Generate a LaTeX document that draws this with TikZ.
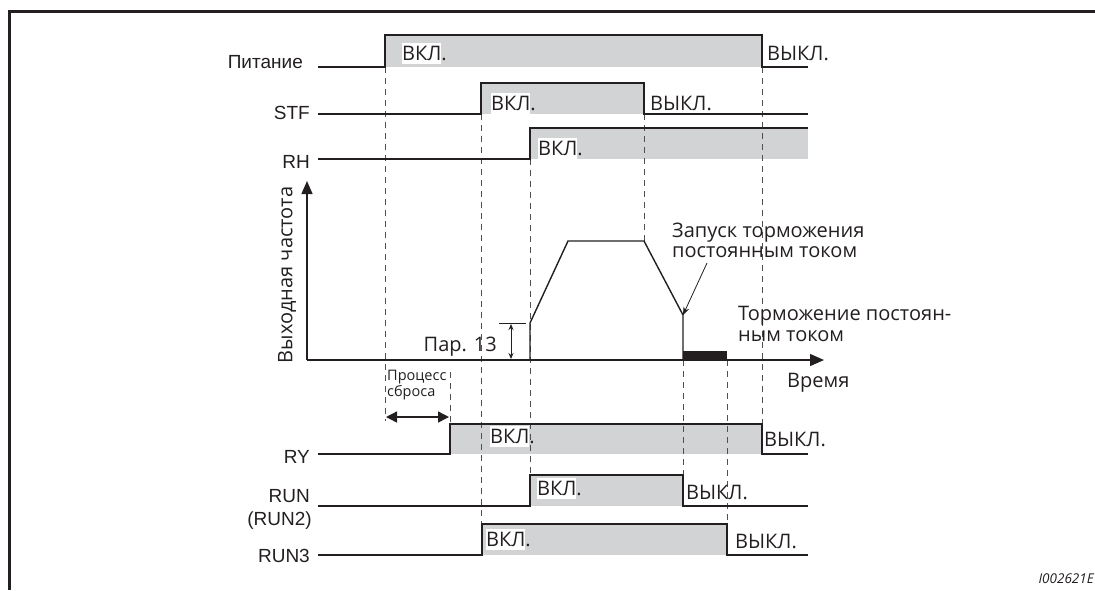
\documentclass[tikz,border=0pt]{standalone}
\usepackage{fontspec}
\setmainfont{Open Sans}
\newfontfamily\arialf{Liberation Sans}
\usetikzlibrary{arrows.meta}
\definecolor{sig}{RGB}{210,211,213}
\definecolor{ln}{RGB}{35,31,32}
\definecolor{dsh}{RGB}{80,80,80}
\newcommand\onlbl{{\setlength{\fboxsep}{0pt}\colorbox{white}{\rule[-4pt]{0pt}{21pt}ВКЛ}.}}
\tikzset{
  sigline/.style={draw=ln, line width=1.4pt, line join=miter},
  sigfill/.style={fill=sig},
  vdash/.style={draw=dsh, line width=0.9pt, dash pattern=on 6pt off 5pt},
  lbl/.style={font=\arialf\fontsize{19}{21}\selectfont, anchor=base east, inner sep=0pt, text=ln},
  txt/.style={font=\fontsize{20}{21}\selectfont, inner sep=0pt, text=ln},
  small/.style={font=\fontsize{14.5}{16}\selectfont, inner sep=0pt, text=ln},
}
\begin{document}
\begin{tikzpicture}[x=1pt,y=-1pt]
\useasboundingbox (0,0) rectangle (1095,590);
% frame
\draw[line width=3pt, ln] (9,590) -- (9,11) -- (1100,11);

% fills
\fill[sigfill] (385,35) rectangle (762,67);
\fill[sigfill] (481,83) rectangle (644,114);
\fill[sigfill] (530,128) rectangle (808,159);
\fill[sigfill] (450,424) rectangle (762,454);
\fill[sigfill] (530,475) rectangle (683,506);
\fill[sigfill] (482,524) rectangle (727,555);

% dashed guide lines
\draw[vdash] (385,67) -- (385,421);
\draw[vdash] (450,372) -- (450,424);
\draw[vdash] (481,114) -- (481,524);
\draw[vdash] (530,159) -- (530,475);
\draw[vdash] (644,114) -- (644,241);
\draw[vdash] (683,360) -- (683,475);
\draw[vdash] (727,360) -- (727,524);
\draw[vdash] (762,67) -- (762,424);

% signal lines
\draw[sigline] (318,67) -- (385,67) -- (385,35) -- (762,35) -- (762,67) -- (808,67);
\draw[sigline] (318,114) -- (481,114) -- (481,83) -- (644,83) -- (644,114) -- (808,114);
\draw[sigline] (318,159) -- (530,159) -- (530,128) -- (808,128);
\draw[sigline] (318,454) -- (450,454) -- (450,424) -- (762,424) -- (762,454) -- (808,454);
\draw[sigline] (318,506) -- (530,506) -- (530,475) -- (683,475) -- (683,506) -- (808,506);
\draw[sigline] (318,555) -- (482,555) -- (482,524) -- (727,524) -- (727,555) -- (808,555);

% frequency axes
\coordinate (orig) at (307,360);
\coordinate (ytip) at (307,181);
\coordinate (xtip) at (824,360);
\draw[sigline, -{Triangle[length=13pt,width=11pt]}] (orig) -- (ytip);
\draw[sigline, -{Triangle[length=14pt,width=12pt]}] (orig) -- (xtip);

% frequency profile
\coordinate (f0) at (530,360);
\coordinate (f1) at (530,323);
\coordinate (f2) at (568,241);
\coordinate (f3) at (644,241);
\coordinate (f4) at (683,315);
\coordinate (f5) at (683,360);
\draw[sigline] (f0) -- (f1) -- (f2) -- (f3) -- (f4) -- (f5);
\fill[ln] (683,351) rectangle (727,360);

% Pr.13
\coordinate (p13a) at (499,323);
\coordinate (p13b) at (526,323);
\draw[ln, line width=0.8pt] (p13a) -- (p13b);
\coordinate (p13t) at (511,324);
\coordinate (p13d) at (511,359);
\draw[ln, line width=0.8pt, {Stealth[length=6pt,width=5pt]}-{Stealth[length=6pt,width=5pt]}] (p13t) -- (p13d);
\node[txt, anchor=base east] (par13) at (497,351) {Пар. 13};

% annotations
\node[txt, anchor=west, align=left, font=\fontsize{20}{20}\selectfont] (dcstart) at (672,240) {Запуск торможения\\постоянным током};
\coordinate (dcs0) at (707,263);
\draw[ln, line width=0.8pt, -{Stealth[length=8pt,width=6pt]}] (dcs0) -- (f4);
\node[txt, anchor=west, align=left, font=\fontsize{20}{21}\selectfont] (dcbrake) at (738,324) {Торможение постоян-\\ным током};
\node[txt, anchor=base west] (time) at (787,387) {Время};
\node[txt, rotate=90] (freq) at (287,275) {Выходная частота};
\node[small, anchor=west, align=left] (reset) at (387,385) {Процесс\\сброса};
\coordinate (ra) at (386,417);
\coordinate (rb) at (449,417);
\draw[ln, line width=1.4pt, {Triangle[length=11pt,width=11pt]}-{Triangle[length=11pt,width=11pt]}] (ra) -- (rb);

% signal names
\node[lbl] (nPit) at (303,68) {Питание};
\node[lbl] (nSTF) at (310,119) {STF};
\node[lbl] (nRH) at (310,168) {RH};
\node[lbl] (nRY) at (310,463) {RY};
\node[lbl] (nRUN) at (310,502) {RUN};
\node[lbl] (nRUN2) at (312,525) {(RUN2)};
\node[lbl] (nRUN3) at (310,562) {RUN3};

% on / off labels
\node[txt, anchor=base west] (onPit) at (402,60) {\onlbl};
\node[txt, anchor=base west] (onSTF) at (491,110) {\onlbl};
\node[txt, anchor=base west] (onRH) at (538,155) {\onlbl};
\node[txt, anchor=base west] (onRY) at (490,443) {\onlbl};
\node[txt, anchor=base west] (onRUN) at (537,495) {\onlbl};
\node[txt, anchor=base west] (onRUN3) at (486,546) {\onlbl};
\node[txt, anchor=base west] (offPit) at (767,60) {ВЫКЛ.};
\node[txt, anchor=base west] (offSTF) at (650,110) {ВЫКЛ.};
\node[txt, anchor=base west] (offRY) at (764,446) {ВЫКЛ.};
\node[txt, anchor=base west] (offRUN) at (686,499) {ВЫКЛ.};
\node[txt, anchor=base west] (offRUN3) at (735,548) {ВЫКЛ.};

% figure id
\node[anchor=base east, inner sep=0pt, font=\itshape\fontsize{13.5}{16}\selectfont, text=ln] (fid) at (1094,583) {I002621E};
\end{tikzpicture}
\end{document}
